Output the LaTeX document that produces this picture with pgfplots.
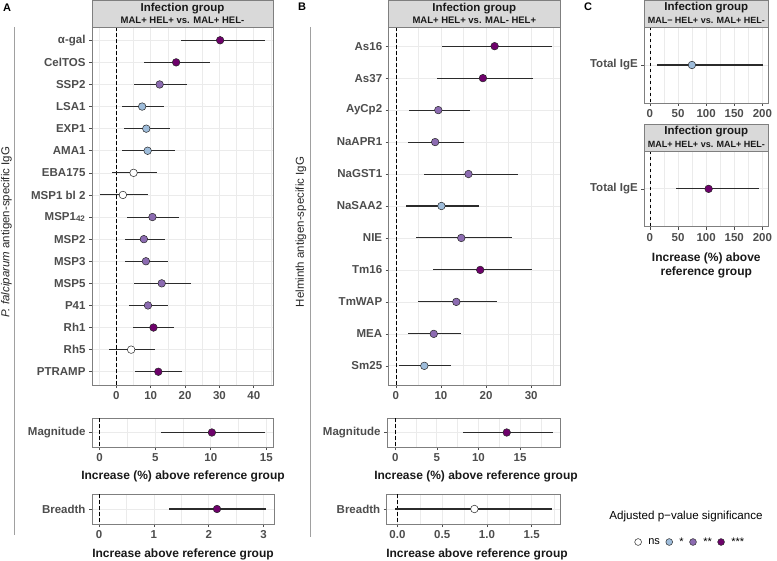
\documentclass[border=0pt]{standalone}
\usepackage{fontspec}
\setmainfont{Liberation Sans}
\usepackage{pgfplots}
\usepackage{pgfplotstable}
\pgfplotsset{compat=1.18}

\definecolor{cs1}{HTML}{9EBCDA}
\definecolor{cs2}{HTML}{8C6BB1}
\definecolor{cs3}{HTML}{6E016B}
\definecolor{frame}{HTML}{7F7F7F}
\definecolor{gridc}{HTML}{EBEBEB}
\definecolor{strip}{HTML}{D9D9D9}
\definecolor{tickc}{HTML}{4D4D4D}
\definecolor{whisk}{HTML}{2B2B2B}
\definecolor{sepc}{HTML}{A0A0A0}

% P. falciparum antigens (panel A)
\pgfplotstableread{
row est lo hi sig
1 30.2 18.8 43.2 s3
2 17.4 8.0 27.4 s3
3 12.6 5.1 20.6 s2
4 7.5 1.7 13.8 s1
5 8.7 2.2 15.7 s1
6 9.1 1.7 17.1 s1
7 5.0 -1.4 11.9 ns
8 1.9 -4.9 9.1 ns
9 10.5 3.2 18.3 s2
10 8.0 2.5 14.1 s2
11 8.6 2.5 15.1 s2
12 13.2 5.1 21.7 s2
13 9.2 3.8 14.9 s2
14 10.8 4.9 16.9 s3
15 4.3 -2.2 11.2 ns
16 12.2 5.4 19.2 s3
}\tabA
\pgfplotstableread{
row est lo hi sig
1 10.1 5.5 14.9 s3
}\tabAmag
\pgfplotstableread{
row est lo hi sig
1 2.15 1.27 3.04 s3
}\tabAbr
% Helminth antigens (panel B)
\pgfplotstableread{
row est lo hi sig
1 21.9 10.2 34.7 s3
2 19.3 9.2 30.3 s3
3 9.4 2.8 16.5 s2
4 8.7 2.7 15.1 s2
5 16.1 6.2 27.0 s2
6 10.1 2.3 18.5 s1
7 14.5 4.4 25.8 s2
8 18.7 8.3 30.2 s3
9 13.4 5.0 22.4 s2
10 8.4 2.6 14.4 s2
11 6.3 0.7 12.3 s1
}\tabB
\pgfplotstableread{
row est lo hi sig
1 13.4 8.2 18.9 s3
}\tabBmag
\pgfplotstableread{
row est lo hi sig
1 0.86 -0.03 1.73 ns
}\tabBbr
% Total IgE (panel C)
\pgfplotstableread{
row est lo hi sig
1 74.7 12.0 201.6 s1
}\tabCa
\pgfplotstableread{
row est lo hi sig
1 104.4 45.7 193.4 s3
}\tabCb

\pgfplotsset{
  forest/.style={
    scale only axis, anchor=north west,
    axis line style={draw=frame, line width=0.9pt},
    tick align=outside, major tick length=3pt,
    tick style={draw=tickc, line width=0.6pt},
    minor tick length=0pt,
    tick pos=left,
    xmajorgrids, xminorgrids, ymajorgrids,
    major grid style={draw=gridc, line width=0.7pt},
    minor grid style={draw=gridc, line width=0.4pt},
    ticklabel style={font=\bfseries\fontsize{11.5}{13}\selectfont, text=tickc},
    /pgf/number format/assume math mode=true,
    y dir=reverse,
  },
  single/.style={ymin=0.4, ymax=1.6, ytick={1}},
}

\newcommand{\forestplot}[1]{%
  \addplot[only marks, mark=none, forget plot,
    error bars/.cd, x dir=both, x explicit, error mark=none,
    error bar style={line width=1.05pt, draw=whisk}]
    table[x=est, y=row, x error plus expr=\thisrow{hi}-\thisrow{est},
          x error minus expr=\thisrow{est}-\thisrow{lo}] {#1};
  \addplot[scatter, only marks, scatter src=explicit symbolic, mark=*, mark size=3.8pt,
    scatter/classes={
      ns={mark=*, draw=black!85, fill=white, line width=0.5pt},
      s1={mark=*, draw=black!85, fill=cs1, line width=0.5pt},
      s2={mark=*, draw=black!85, fill=cs2, line width=0.5pt},
      s3={mark=*, draw=black!85, fill=cs3, line width=0.5pt}}]
    table[x=est, y=row, meta=sig] {#1};
}
\newcommand{\zeroline}[2]{%
  \addplot[black, line width=0.6pt, dash pattern=on 3.5pt off 2.5pt, forget plot]
    coordinates {(0,#1) (0,#2)};
}

\begin{document}
\begin{tikzpicture}
\useasboundingbox (0pt,0pt) rectangle (777pt,-561pt);

% ---------------- Panel A ----------------
\begin{axis}[forest, at={(92pt,-27pt)}, width=181pt, height=358pt,
  xmin=-7.1, xmax=45.6, xtick={0,10,20,30,40}, minor xtick={-5,5,15,25,35,45},
  ymin=0.4, ymax=16.6, ytick={1,...,16},
  yticklabels={α-gal,CelTOS,SSP2,LSA1,EXP1,AMA1,EBA175,MSP1 bl 2,MSP1\textsubscript{42},MSP2,MSP3,MSP5,P41,Rh1,Rh5,PTRAMP}]
  \zeroline{0.4}{16.6}
  \forestplot{\tabA}
\end{axis}

\begin{axis}[forest, single, at={(92pt,-418pt)}, width=181pt, height=29pt,
  xmin=-0.69, xmax=15.6, xtick={0,5,10,15}, minor xtick={2.5,7.5,12.5},
  yticklabels={Magnitude}]
  \zeroline{0.4}{1.6}
  \forestplot{\tabAmag}
\end{axis}

\begin{axis}[forest, single, at={(92pt,-494pt)}, width=182pt, height=30pt,
  xmin=-0.13, xmax=3.19, xtick={0,1,2,3}, minor xtick={0.5,1.5,2.5},
  yticklabels={Breadth}]
  \zeroline{0.4}{1.6}
  \forestplot{\tabAbr}
\end{axis}

% ---------------- Panel B ----------------
\begin{axis}[forest, at={(388.7pt,-27pt)}, width=171.3pt, height=358pt,
  xmin=-1.6, xmax=36.4, xtick={0,10,20,30}, minor xtick={5,15,25,35},
  ymin=0.4, ymax=11.6, ytick={1,...,11},
  yticklabels={As16,As37,AyCp2,NaAPR1,NaGST1,NaSAA2,NIE,Tm16,TmWAP,MEA,Sm25}]
  \zeroline{0.4}{11.6}
  \forestplot{\tabB}
\end{axis}

\begin{axis}[forest, single, at={(387pt,-418pt)}, width=173pt, height=29pt,
  xmin=-0.99, xmax=19.8, xtick={0,5,10,15}, minor xtick={2.5,7.5,12.5,17.5},
  yticklabels={Magnitude}]
  \zeroline{0.4}{1.6}
  \forestplot{\tabBmag}
\end{axis}

\begin{axis}[forest, single, at={(386.7pt,-494pt)}, width=173.6pt, height=30pt,
  xmin=-0.12, xmax=1.82, xtick={0,0.5,1,1.5}, xticklabels={0.0,0.5,1.0,1.5},
  minor xtick={0.25,0.75,1.25,1.75},
  yticklabels={Breadth}]
  \zeroline{0.4}{1.6}
  \forestplot{\tabBbr}
\end{axis}

% ---------------- Panel C ----------------
\begin{axis}[forest, single, at={(644.3pt,-27pt)}, width=124pt, height=76pt,
  xmin=-10, xmax=210.5, xtick={0,50,100,150,200}, minor xtick={25,75,125,175},
  yticklabels={Total IgE}]
  \zeroline{0.4}{1.6}
  \forestplot{\tabCa}
\end{axis}

\begin{axis}[forest, single, at={(644.3pt,-151pt)}, width=124pt, height=75.7pt,
  xmin=-10, xmax=210.5, xtick={0,50,100,150,200}, minor xtick={25,75,125,175},
  yticklabels={Total IgE}]
  \zeroline{0.4}{1.6}
  \forestplot{\tabCb}
\end{axis}

% ---------------- Legend ----------------
\begin{axis}[hide axis, scale only axis, width=10pt, height=10pt, at={(0pt,0pt)},
  xmin=0, xmax=1, ymin=0, ymax=1,
  legend columns=4,
  legend style={draw=none, fill=none, at={(690pt,-542pt)}, anchor=center,
    font=\fontsize{11}{12}\selectfont, column sep=0pt,
    /tikz/every even column/.append style={column sep=3pt}},
  legend image code/.code={\path (-4pt,0pt) (8pt,0pt); \draw[#1] plot coordinates {(0pt,0pt)};}]
  \addlegendimage{only marks, mark=*, mark size=3.4pt, draw=black!85, fill=white, line width=0.5pt}
  \addlegendentry{ns}
  \addlegendimage{only marks, mark=*, mark size=3.4pt, draw=black!85, fill=cs1, line width=0.5pt}
  \addlegendentry{*}
  \addlegendimage{only marks, mark=*, mark size=3.4pt, draw=black!85, fill=cs2, line width=0.5pt}
  \addlegendentry{**}
  \addlegendimage{only marks, mark=*, mark size=3.4pt, draw=black!85, fill=cs3, line width=0.5pt}
  \addlegendentry{***}
\end{axis}
\node[font=\fontsize{11.6}{13}\selectfont] at (686pt,-516.7pt) {Adjusted p−value significance};

% ---------------- Strip headers ----------------
\tikzset{hA/.style={font=\bfseries\fontsize{11.5}{12}\selectfont, text=black!90},
         hB/.style={font=\bfseries\fontsize{9.5}{10}\selectfont, text=black!90},
         hBc/.style={font=\bfseries\fontsize{9}{10}\selectfont, text=black!90},
         xl/.style={font=\bfseries\fontsize{12}{14}\selectfont, text=black!90}}
\draw[draw=frame, line width=0.9pt, fill=strip] (92pt,-0.5pt) rectangle (273pt,-27pt);
\node[hA] at (182.5pt,-8.7pt) {Infection group};
\node[hB] at (182.5pt,-20.3pt) {MAL+ HEL+ vs. MAL+ HEL-};
\draw[draw=frame, line width=0.9pt, fill=strip] (388.7pt,-0.5pt) rectangle (560pt,-27pt);
\node[hA] at (474.3pt,-8.7pt) {Infection group};
\node[hB] at (474.3pt,-20.3pt) {MAL+ HEL+ vs. MAL- HEL+};
\draw[draw=frame, line width=0.9pt, fill=strip] (644.3pt,-0.5pt) rectangle (768.3pt,-27pt);
\node[hA] at (706.3pt,-8pt) {Infection group};
\node[hBc] at (706.3pt,-20.3pt) {MAL− HEL+ vs. MAL+ HEL-};
\draw[draw=frame, line width=0.9pt, fill=strip] (644.3pt,-124pt) rectangle (768.3pt,-151pt);
\node[hA] at (706.3pt,-132pt) {Infection group};
\node[hBc] at (706.3pt,-144.5pt) {MAL+ HEL+ vs. MAL+ HEL-};

% ---------------- Axis titles ----------------
\node[xl] at (183pt,-476pt) {Increase (\%) above reference group};
\node[xl] at (183pt,-554pt) {Increase above reference group};
\node[xl] at (476pt,-476pt) {Increase (\%) above reference group};
\node[xl] at (477pt,-554pt) {Increase above reference group};
\node[xl, align=center] at (706.3pt,-265.5pt) {Increase (\%) above\\reference group};

\draw[sepc, line width=0.8pt] (14pt,-27pt) -- (14pt,-535pt);
\draw[sepc, line width=0.8pt] (310pt,-27pt) -- (310pt,-537pt);
\node[rotate=90, font=\fontsize{11.5}{13}\selectfont, text=black!85] at (6.5pt,-232pt) {\textit{P. falciparum} antigen-specific IgG};
\node[rotate=90, font=\fontsize{11.5}{13}\selectfont, text=black!85] at (301pt,-232pt) {Helminth antigen-specific IgG};

% ---------------- Panel letters ----------------
\node[font=\bfseries\fontsize{11}{12}\selectfont] at (7pt,-8pt) {A};
\node[font=\bfseries\fontsize{11}{12}\selectfont] at (302pt,-6.5pt) {B};
\node[font=\bfseries\fontsize{11}{12}\selectfont] at (588pt,-6.5pt) {C};
\end{tikzpicture}
\end{document}
